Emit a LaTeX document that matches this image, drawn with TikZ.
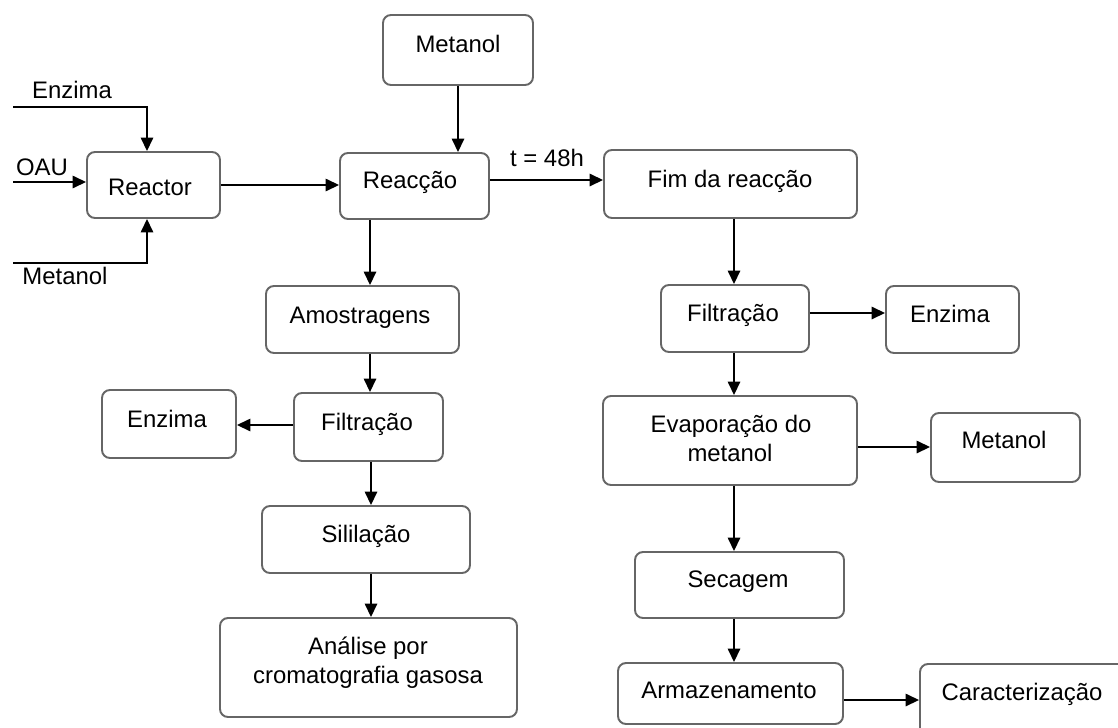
\documentclass[tikz,border=0pt]{standalone}
\usepackage{fontspec}
\setmainfont{Liberation Sans}
\usetikzlibrary{arrows.meta,fit}
\begin{document}
\begin{tikzpicture}[x=0.02cm,y=-0.02cm,
  box/.style={draw=black!60, line width=1.1pt, rounded corners=0.16cm, inner sep=0pt, fill=white},
  txt/.style={font=\fontsize{13.6}{16}\selectfont, inner sep=0pt, anchor=base},
  arr/.style={draw=black, line width=0.9pt, -{Triangle[length=0.27cm,width=0.25cm]}}]
\useasboundingbox (0,0) rectangle (1118,727);
\clip (0,0) rectangle (1118,727);
\fill[white] (0,0) rectangle (1118,727);

% boxes
\node[box, fit={(383,15) (533,85)}] (met1) {};
\node[box, fit={(87,152) (220,218)}] (reactor) {};
\node[box, fit={(340,153) (489,219)}] (reac) {};
\node[box, fit={(604,150) (857,218)}] (fim) {};
\node[box, fit={(266,286) (459,353)}] (amos) {};
\node[box, fit={(294,393) (443,461)}] (filtL) {};
\node[box, fit={(102,390) (236,458)}] (enzL) {};
\node[box, fit={(262,506) (470,573)}] (sil) {};
\node[box, fit={(220,618) (517,717)}] (anal) {};
\node[box, fit={(661,285) (809,352)}] (filtR) {};
\node[box, fit={(886,286) (1019,353)}] (enzR) {};
\node[box, fit={(603,396) (857,485)}] (evap) {};
\node[box, fit={(931,413) (1080,482)}] (metR) {};
\node[box, fit={(635,552) (844,618)}] (sec) {};
\node[box, fit={(618,663) (843,724)}] (arm) {};
\node[box, fit={(920,664) (1160,760)}] (car) {};

% texts
\node[txt] (tmet1) at (458,52) {Metanol};
\node[txt] (treactor) at (150,195) {Reactor};
\node[txt] (treac) at (410,188) {Reacção};
\node[txt] (tfim) at (730,187) {Fim da reacção};
\node[txt] (tamos) at (360,323) {Amostragens};
\node[txt] (tfiltL) at (367,430) {Filtração};
\node[txt] (tenzL) at (167,427) {Enzima};
\node[txt] (tsil) at (366,542) {Sililação};
\node[txt] (tanal1) at (368,654) {Análise por};
\node[txt] (tanal2) at (368,683) {cromatografia gasosa};
\node[txt] (tfiltR) at (733,321) {Filtração};
\node[txt] (tenzR) at (950,322) {Enzima};
\node[txt] (tevap1) at (731,432) {Evaporação do};
\node[txt] (tevap2) at (730,461) {metanol};
\node[txt] (tmetR) at (1004,448) {Metanol};
\node[txt] (tsec) at (738,587) {Secagem};
\node[txt] (tarm) at (729,698) {Armazenamento};
\node[txt] (tcar) at (1022,700) {Caracterização};

% input labels
\node[txt] (lenz) at (72,98) {Enzima};
\node[txt] (loau) at (42,175) {OAU};
\node[txt] (lmet) at (65,284) {Metanol};
\node[txt] (lt) at (547,166) {t = 48h};

% free ends
\coordinate (inE) at (13,107);
\coordinate (inEc) at (147,107);
\coordinate (inO) at (13,182);
\coordinate (inM) at (13,263);
\coordinate (inMc) at (147,263);

% connectors
\draw[arr] (inE) -- (inEc) -- (inEc |- reactor.north);
\draw[arr] (inO) -- (inO -| reactor.west);
\draw[arr] (inM) -- (inMc) -- (inMc |- reactor.south);
\draw[arr] (reactor.east) -- (reactor.east -| reac.west);
\draw[arr] (met1.south) -- (met1.south |- reac.north);
\draw[arr] (reac.east |- 0,180) -- (fim.west |- 0,180);
\draw[arr] (370,0 |- reac.south) -- (370,0 |- amos.north);
\draw[arr] (370,0 |- amos.south) -- (370,0 |- filtL.north);
\draw[arr] (filtL.west |- 0,425) -- (enzL.east |- 0,425);
\draw[arr] (371,0 |- filtL.south) -- (371,0 |- sil.north);
\draw[arr] (371,0 |- sil.south) -- (371,0 |- anal.north);
\draw[arr] (734,0 |- fim.south) -- (734,0 |- filtR.north);
\draw[arr] (filtR.east |- 0,313) -- (enzR.west |- 0,313);
\draw[arr] (734,0 |- filtR.south) -- (734,0 |- evap.north);
\draw[arr] (evap.east |- 0,447) -- (metR.west |- 0,447);
\draw[arr] (734,0 |- evap.south) -- (734,0 |- sec.north);
\draw[arr] (734,0 |- sec.south) -- (734,0 |- arm.north);
\draw[arr] (arm.east |- 0,700) -- (car.west |- 0,700);
\end{tikzpicture}
\end{document}
